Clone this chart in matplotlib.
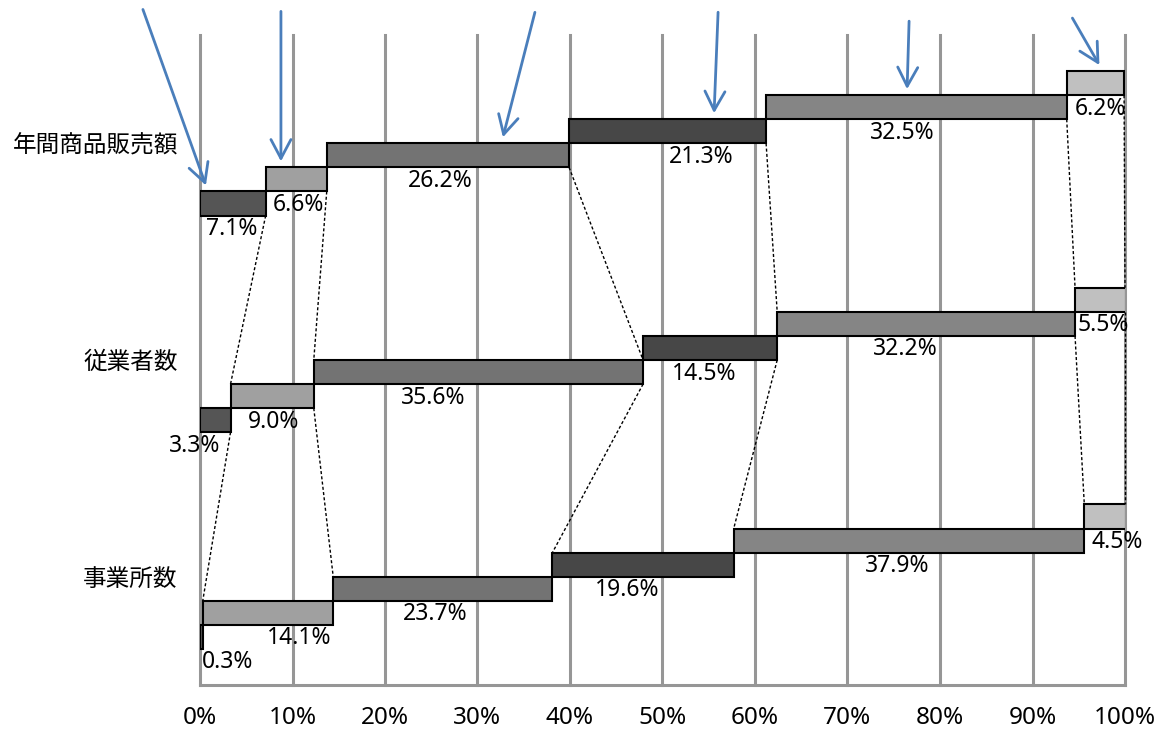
import matplotlib
matplotlib.use("Agg")
import matplotlib.pyplot as plt
import numpy as np

plt.rcParams['font.family'] = ['Noto Sans CJK JP', 'DejaVu Sans']

# ---- data ----
categories = ['事業所数', '従業者数', '年間商品販売額']   # bottom -> top
shares_jigyosho = [0.3, 14.1, 23.7, 19.6, 37.9, 4.5]
shares_jugyosha = [3.3, 9.0, 35.6, 14.5, 32.2, 5.5]
shares_hanbai   = [7.1, 6.6, 26.2, 21.3, 32.5, 6.2]
series = [shares_jigyosho, shares_jugyosha, shares_hanbai]
xticks = [0, 10, 20, 30, 40, 50, 60, 70, 80, 90, 100]
xtick_labels = [f'{v}%' for v in xticks]

# ---- style / layout ----
seg_colors = ['#555555', '#a0a0a0', '#737373', '#474747', '#858585', '#c0c0c0']
grid_color = '#969696'
arrow_color = '#4a7ebb'
num_font = ['Noto Sans', 'DejaVu Sans']
row_gap = 9.0          # vertical distance between categories (in bar heights)
first_center = 4.5
# label x-offsets (pixels) relative to bar centre, bottom->top rows
label_dx = [[26, 31, -8, -16, -12, 12],
            [-21, 1, -45, -6, -21, 3],
            [-1, 2, -8, 34, -14, 5]]
# which lower-row segment's top each connector ends on (upper->lower pair)
link_end = {(2, 1): [1, 2, 2, 4, 5, 5],
            (1, 0): [1, 2, 3, 4, 5, 5]}
# arrows on the top row: fraction along segment, tail offset (pixels)
arrow_frac = [0.09, 0.25, 0.727, 0.736, 0.469, 0.57]
arrow_tail = [(-63, 176), (0, 150), (32, 125), (4, 101), (2, 68), (-27, 47)]

W, H = 1164, 731
fig = plt.figure(figsize=(W / 100, H / 100), dpi=100)
ax = fig.add_axes([200 / W, (H - 685) / H, 925 / W, 650 / H])
ax.set_xlim(0, 100)
ax.set_ylim(0, 27)

px = 0.72  # points per pixel

centers = [first_center + row_gap * k for k in range(len(categories))]
lefts_all = []
for k, vals in enumerate(series):
    vals = np.array(vals)
    lefts = np.concatenate([[0], np.cumsum(vals)[:-1]])
    lefts_all.append(np.cumsum(vals))
    bottoms = centers[k] - 3 + np.arange(len(vals))
    ax.bar(lefts, np.ones(len(vals)), width=vals, bottom=bottoms, align='edge',
           color=seg_colors, edgecolor='black', linewidth=1.5, zorder=3)
    for i, v in enumerate(vals):
        ax.annotate(f'{v:.1f}%', xy=(lefts[i] + v / 2, bottoms[i]),
                    xytext=(label_dx[k][i] * px, -13.5 * px), textcoords='offset points',
                    ha='center', va='center', fontsize=16.5, family=num_font, zorder=5,
                    annotation_clip=False)

# dashed connectors between rows
for (ku, kl), ends in link_end.items():
    cu = np.minimum(lefts_all[ku], 100)
    cl = np.minimum(lefts_all[kl], 100)
    for j in range(6):
        y0 = centers[ku] - 3 + j
        y1 = centers[kl] - 3 + ends[j] + 1
        ax.plot([cu[j], cl[j]], [y0, y1], color='black', lw=1.0,
                linestyle=(0, (2.2, 1.6)), zorder=4, clip_on=False)

# arrows pointing at top-row segments
top = np.array(series[2])
top_lefts = np.concatenate([[0], np.cumsum(top)[:-1]])
for i in range(6):
    tx = top_lefts[i] + arrow_frac[i] * top[i]
    ty = centers[2] - 3 + i + 1 + 0.25
    dx, dy = arrow_tail[i]
    ax.annotate('', xy=(tx, ty), xytext=(dx * px, dy * px), textcoords='offset points',
                arrowprops=dict(arrowstyle='->,head_length=0.68,head_width=0.36',
                                color=arrow_color, lw=2.0, mutation_scale=20,
                                shrinkA=0, shrinkB=0),
                annotation_clip=False, zorder=6)

# axes styling
ax.set_xticks(xticks)
ax.set_xticklabels(xtick_labels, fontsize=17.5, family=num_font)
ax.set_yticks(centers)
ax.set_yticklabels(categories, fontsize=17)
ax.tick_params(axis='x', length=0, pad=15)
ax.tick_params(axis='y', length=0, pad=16)
ax.grid(axis='x', color=grid_color, linewidth=2.2)
for gl in ax.get_xgridlines():
    gl.set_clip_on(False)
ax.set_axisbelow(True)
for s in ['top', 'right', 'left']:
    ax.spines[s].set_visible(False)
ax.spines['bottom'].set_color(grid_color)
ax.spines['bottom'].set_linewidth(2.2)

fig.savefig('out.png', dpi=100)
